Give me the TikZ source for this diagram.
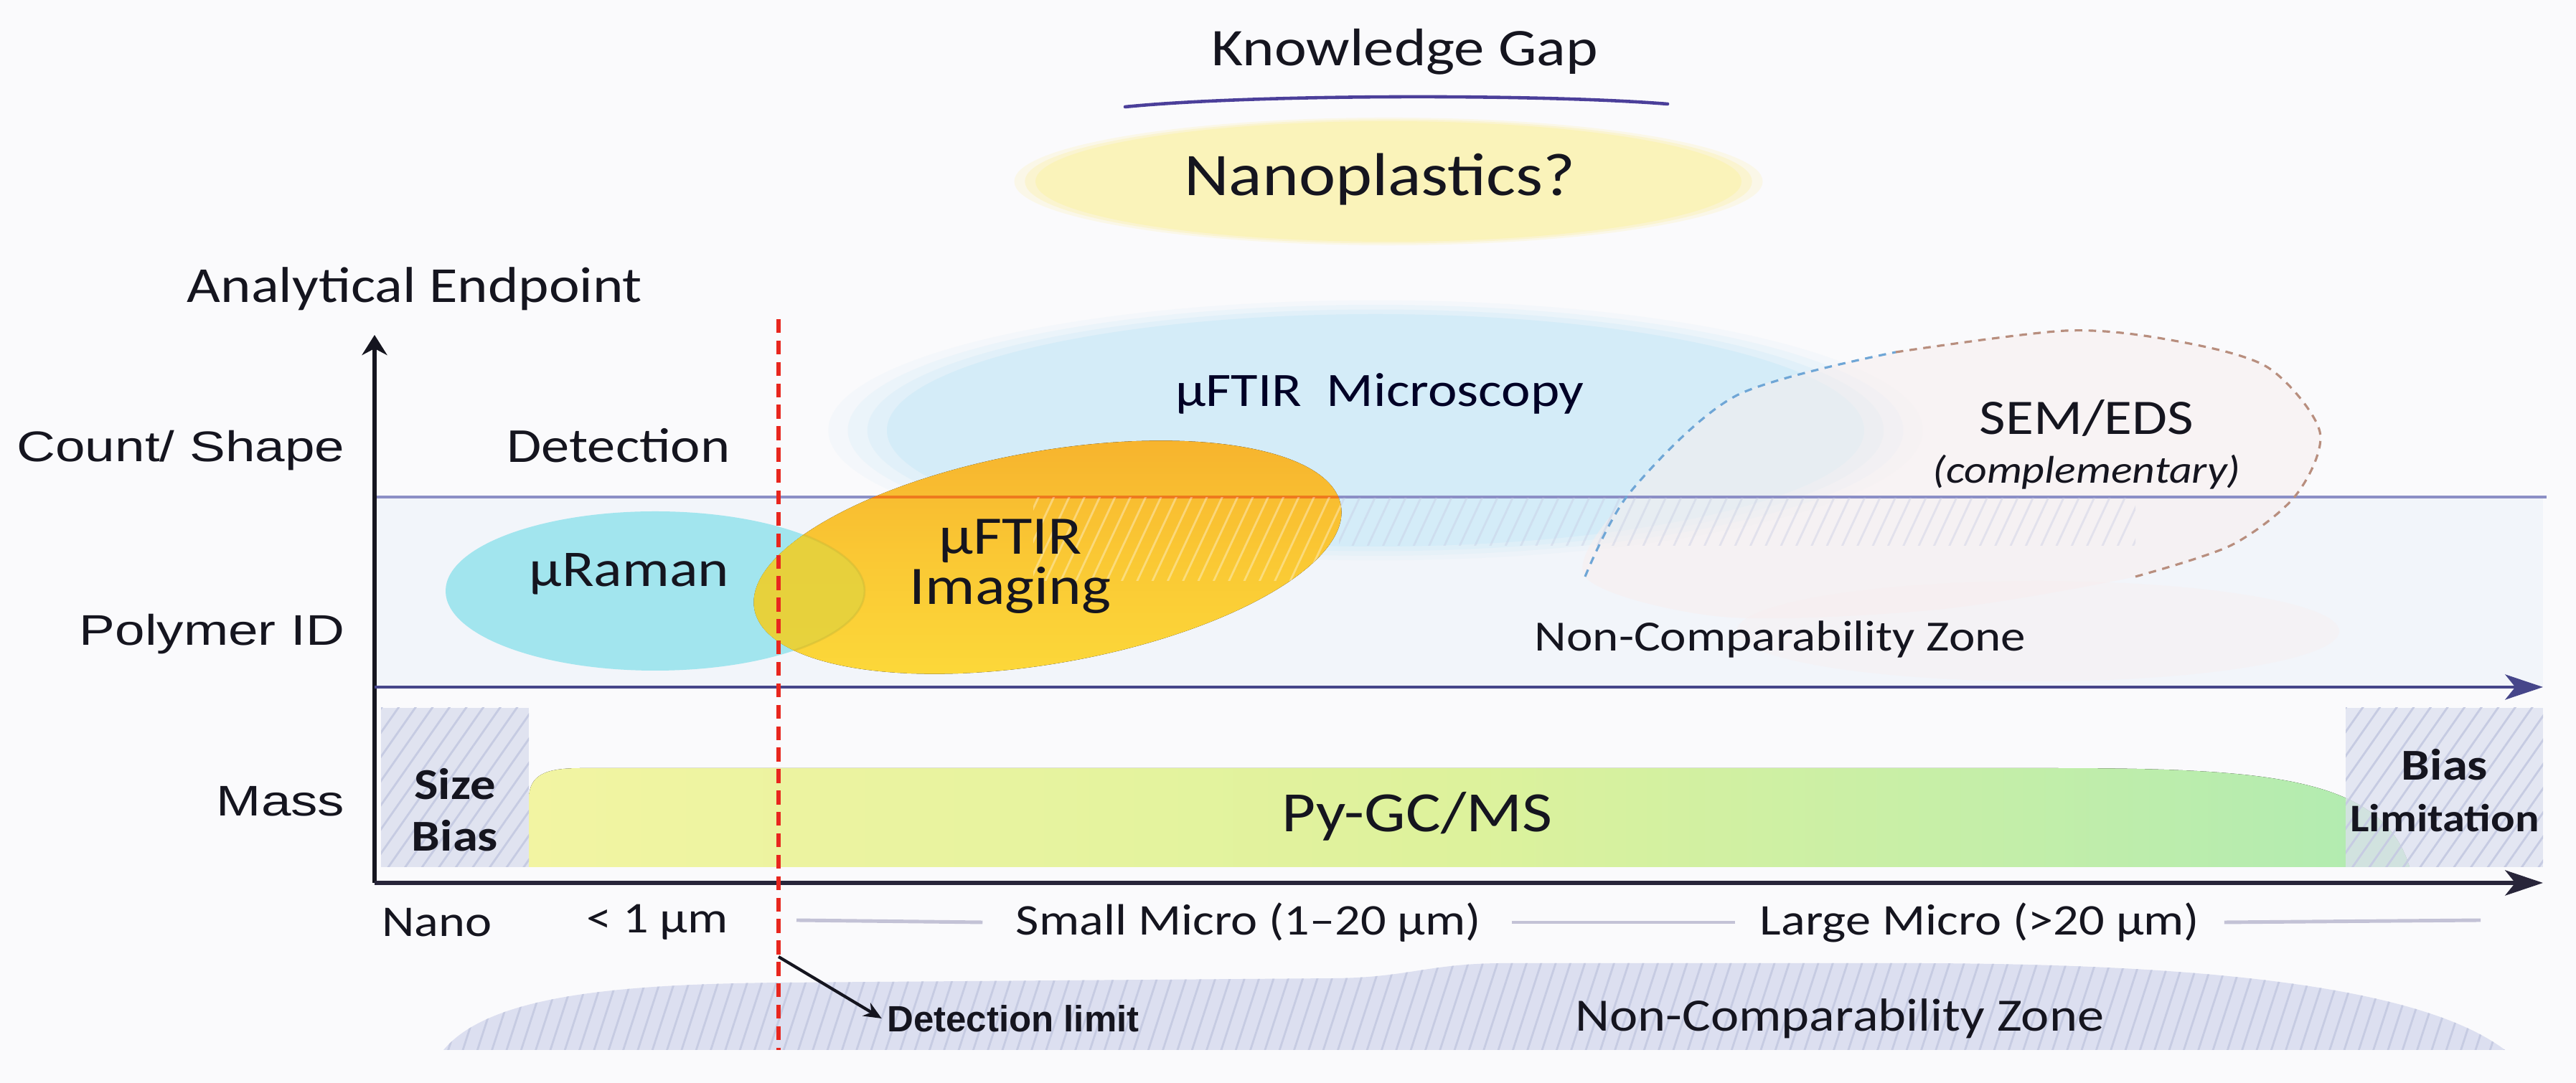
\documentclass[tikz,border=0pt]{standalone}
\usepackage{fontspec}
\setmainfont[FakeStretch=1.15]{Carlito}
\newfontfamily\axisfont[FakeStretch=1.25]{Liberation Sans}
\newfontfamily\notefont{Liberation Sans}
\usetikzlibrary{arrows.meta,patterns.meta}

\definecolor{bgc}{HTML}{FAFAFC}
\definecolor{panelc}{HTML}{F2F5FA}
\definecolor{gapfill}{HTML}{FAF3BA}
\definecolor{gapline}{HTML}{4B3F9A}
\definecolor{micfill}{HTML}{D4ECF8}
\definecolor{ramanfill}{HTML}{A2E5EE}
\definecolor{overlapc}{HTML}{E4D23E}
\definecolor{imgtop}{HTML}{F6B12D}
\definecolor{imgmid}{HTML}{FAC834}
\definecolor{imgbot}{HTML}{FCDA3A}
\definecolor{imgline}{HTML}{EE7A1E}
\definecolor{semfill}{HTML}{F8EEEE}
\definecolor{semblue}{HTML}{6FA6D6}
\definecolor{sembrown}{HTML}{B88E7E}
\definecolor{shapeln}{HTML}{8C8FC6}
\definecolor{polyax}{HTML}{46468A}
\definecolor{massax}{HTML}{28253A}
\definecolor{detred}{HTML}{E8261E}
\definecolor{biasfill}{HTML}{DCE0EF}
\definecolor{hatchc}{HTML}{C6CBE2}
\definecolor{pyleft}{HTML}{F2F4A2}
\definecolor{pymid}{HTML}{DDF29C}
\definecolor{pyright}{HTML}{B0EBB2}
\definecolor{zonefill}{HTML}{DCDFF0}
\definecolor{sepc}{HTML}{C3C2D6}
\definecolor{inkc}{HTML}{15151F}

\newcommand{\setfs}[2]{\fontsize{#1}{#2}\selectfont}

\tikzset{
  txt/.style={inner sep=0pt, text=inkc},
  axlabel/.style={txt, anchor=east, font=\axisfont\setfs{17pt}{20pt}},
  boxlabel/.style={txt, align=center, font=\bfseries\setfs{17.5pt}{20.5pt}},
  sizelabel/.style={txt, font=\setfs{17.4pt}{20pt}},
  hatch/.style={pattern={Lines[angle=#1,distance=5.5pt,line width=0.8pt]}},
  sepline/.style={draw=sepc, line width=1.4pt},
  bigaxis/.style={line width=#1, -{Stealth[length=15pt,width=10pt,inset=4pt]}},
  imgshape/.style={rotate around={10:(14.6,7.33)}}
}

\begin{document}
\begin{tikzpicture}
    \useasboundingbox (0,0) rectangle (35.9,15.1);
    \fill[bgc] (0,0) rectangle (35.9,15.1);
    %% Plot panel
    \fill[panelc] (5.22,5.52) rectangle (35.44,8.17);

    %% Knowledge gap
    \foreach \s/\o in {1.06/0.3,1.03/0.5}
      \fill[gapfill, opacity=\o] (19.35,12.57) ellipse ({4.92*\s} and {0.84*\s});
    \fill[gapfill] (19.35,12.57) ellipse (4.92 and 0.84);
    \node[txt, font=\setfs{21pt}{24pt}] (kgap) at (19.58,14.38) {Knowledge Gap};
    \node[txt, font=\setfs{24pt}{28pt}] (nano) at (19.23,12.6) {Nanoplastics?};
    \draw[gapline, line width=1.3pt, line cap=round] (15.68,13.61) .. controls (17.5,13.79) and (21.5,13.79) .. (23.24,13.65);
    \node[txt, font=\setfs{20pt}{24pt}] (endpt) at (5.78,11.07) {Analytical Endpoint};

    %% uFTIR microscopy and SEM/EDS
    \foreach \s/\o in {1.12/0.15,1.08/0.25,1.04/0.4}
      \fill[micfill, opacity=\o] (19.17,9.1) ellipse ({6.81*\s} and {1.62*\s});
    \fill[micfill] (19.17,9.1) ellipse (6.81 and 1.62);
    \fill[semfill, opacity=0.55] plot[smooth cycle] coordinates {(22.09,7.06) (22.72,8.24) (24.19,9.58) (26.42,10.19) (28.8,10.49) (30.3,10.35) (31.6,9.98) (32.33,9.08) (32.0,8.2) (31.1,7.5) (29.76,7.06) (27.0,6.6) (24.0,6.5)};
    \fill[semfill, opacity=0.35] (28.4,6.3) ellipse (4.2 and 0.7);
    \draw[shapeln, line width=1.2pt] (5.22,8.17) -- (35.49,8.17);
    \fill[hatch=65, pattern color=hatchc, opacity=0.4] (18.66,7.49) rectangle (29.76,8.15);

    %% uRaman and uFTIR imaging
    \fill[ramanfill] (9.13,6.86) ellipse (2.92 and 1.11);
    \fill[imgshape, top color=imgtop, bottom color=imgbot, middle color=imgmid] (14.6,7.33) ellipse (4.15 and 1.48);
    \begin{scope}
      \clip[imgshape] (14.6,7.33) ellipse (4.15 and 1.48);
      \fill[overlapc, opacity=0.85] (9.13,6.86) ellipse (2.92 and 1.11);
      \draw[overlapc!85!black, opacity=0.35, line width=0.8pt] (9.13,6.86) ellipse (2.92 and 1.11);
      \draw[imgline, line width=1.3pt] (5.22,8.17) -- (35.49,8.17);
      \fill[hatch=65, pattern color=white, opacity=0.35] (14.4,7.0) rectangle (19,8.16);
    \end{scope}
    \draw[semblue, dashed, dash pattern=on 3pt off 2.5pt, line width=0.9pt] plot[smooth] coordinates {(22.09,7.06) (22.72,8.24) (24.19,9.58) (26.42,10.19)};
    \draw[sembrown, dashed, dash pattern=on 3pt off 2.5pt, line width=0.9pt] plot[smooth] coordinates {(26.42,10.19) (28.8,10.49) (30.3,10.35) (31.6,9.98) (32.33,9.08) (32.0,8.2) (31.1,7.5) (29.76,7.06)};

    %% Mass row
    \fill[left color=pyleft, right color=pyright, middle color=pymid] (7.37,3.01) -- (7.37,3.95) .. controls (7.37,4.3) and (7.6,4.39) .. (8.1,4.39) -- (28.5,4.39) .. controls (31.5,4.39) and (33.2,4.3) .. (33.58,3.01) -- cycle;
    \fill[biasfill, opacity=0.85] (5.31,3.01) rectangle (7.37,5.23);
    \fill[biasfill, opacity=0.75] (32.69,3.01) rectangle (35.44,5.23);
    \fill[hatch=55, pattern color=hatchc] (5.31,3.01) rectangle (7.37,5.23);
    \fill[hatch=55, pattern color=hatchc] (32.69,3.01) rectangle (35.44,5.23);

    %% Axes
    \coordinate (origin) at (5.22,2.79);
    \draw[inkc, line width=1.6pt, -{Stealth[length=8pt,width=10pt]}] (origin) -- (5.22,10.43);
    \draw[polyax, bigaxis=1.2pt] (5.22,5.52) -- (35.44,5.52);
    \draw[massax, bigaxis=1.7pt] (origin) -- (35.44,2.79);

    %% Lower non-comparability zone
    \fill[zonefill] (6.18,0.46) .. controls (6.8,1.2) and (8.5,1.38) .. (10.93,1.40) -- (18.6,1.46) .. controls (19.6,1.47) and (19.9,1.66) .. (20.9,1.67) -- (26.75,1.67) .. controls (31,1.66) and (33.8,1.3) .. (34.91,0.46) -- cycle;
    \fill[hatch=72, pattern color=hatchc] (6.18,0.46) .. controls (6.8,1.2) and (8.5,1.38) .. (10.93,1.40) -- (18.6,1.46) .. controls (19.6,1.47) and (19.9,1.66) .. (20.9,1.67) -- (26.75,1.67) .. controls (31,1.66) and (33.8,1.3) .. (34.91,0.46) -- cycle;

    %% Detection limit
    \coordinate (dtop) at (10.85,10.65);
    \coordinate (dbot) at (10.85,0.46);
    \coordinate (dlim) at (10.85,1.76);
    \draw[detred, line width=1.7pt, dash pattern=on 5.5pt off 3pt] (dtop) -- (dbot);
    \node[txt, font=\notefont\bfseries\setfs{14.5pt}{17pt}] (detlim) at (14.12,0.9) {Detection limit};
    \draw[inkc, line width=1.2pt, -{Stealth[length=7pt,width=6pt]}] (dlim) -- ([xshift=-2pt]detlim.west);

    %% Labels
    \node[axlabel] (lcount) at (4.81,8.82) {Count/ Shape};
    \node[axlabel] (lpoly) at (4.81,6.26) {Polymer ID};
    \node[axlabel] (lmass) at (4.81,3.93) {Mass};
    \node[txt, font=\setfs{19.4pt}{23pt}] (detect) at (8.62,8.89) {Detection};
    \node[txt, text=black!85!blue, font=\setfs{19pt}{23pt}] (mic) at (19.23,9.61) {µFTIR\ \ Microscopy};
    \node[txt, font=\setfs{20.4pt}{24pt}] (raman) at (8.77,7.1) {µRaman};
    \node[txt, align=center, font=\setfs{21.5pt}{20pt}] (imaging) at (14.08,7.2) {µFTIR\\Imaging};
    \node[txt, font=\setfs{19.7pt}{23pt}] (sem) at (29.08,9.27) {SEM/EDS};
    \node[txt, font=\itshape\setfs{15.3pt}{18pt}] (compl) at (29.08,8.52) {(complementary)};
    \node[txt, font=\setfs{17.1pt}{20pt}] (ncz) at (24.81,6.19) {Non-Comparability Zone};
    \node[boxlabel] (sizebias) at (6.34,3.81) {Size\\Bias};
    \node[boxlabel] (biaslim) at (34.07,4.08) {Bias\\{\setfs{15.5pt}{20pt}Limitation}};
    \node[txt, font=\setfs{22.6pt}{26pt}] (pygc) at (19.75,3.72) {Py-GC/MS};
    \node[txt, font=\setfs{18.4pt}{21pt}] (nczlow) at (25.64,0.9) {Non-Comparability Zone};

    %% Size classes
    \node[sizelabel] (nanocl) at (6.09,2.24) {Nano};
    \node[sizelabel] (subum) at (9.16,2.24) {< 1 µm};
    \node[sizelabel] (small) at (17.4,2.24) {Small Micro (1–20 µm)};
    \node[sizelabel] (large) at (27.59,2.24) {Large Micro (>20 µm)};
    \draw[sepline] (11.1,2.27) -- ([xshift=-4.6mm]small.west);
    \draw[sepline] ([xshift=4.2mm]small.east) -- ([xshift=-3.4mm]large.west);
    \draw[sepline] ([xshift=3.4mm]large.east) -- (34.57,2.27);
\end{tikzpicture}
\end{document}
